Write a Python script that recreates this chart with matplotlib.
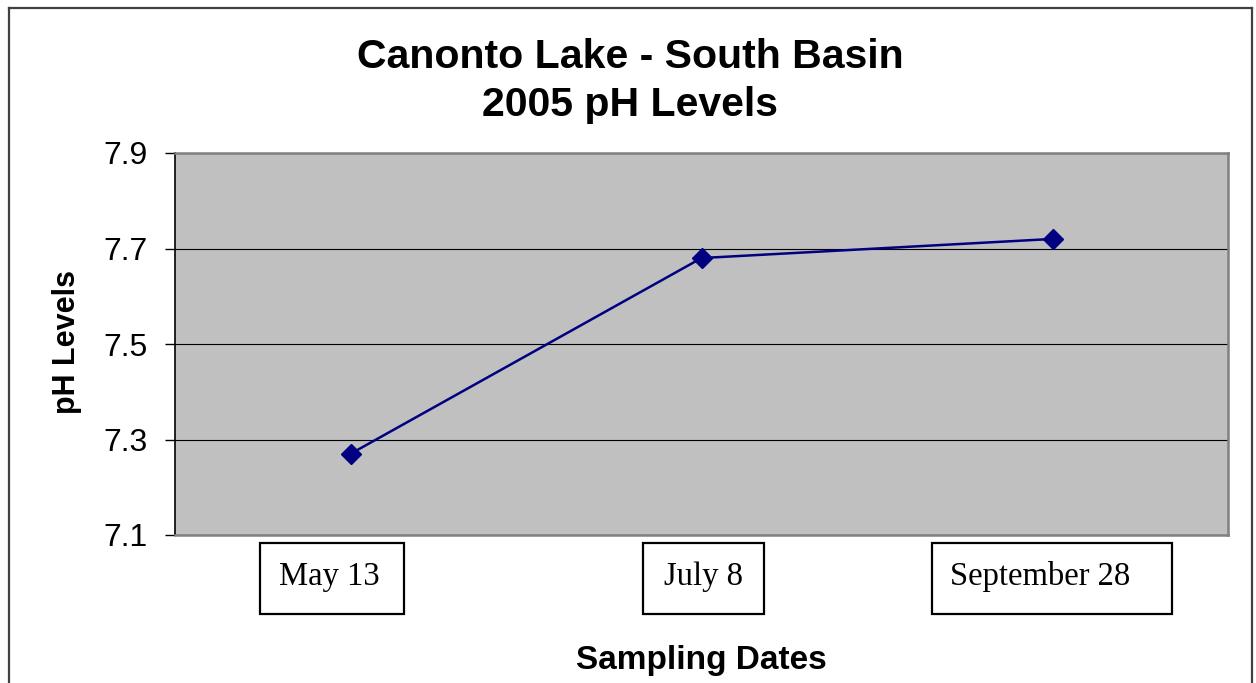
import matplotlib
matplotlib.use("Agg")
import matplotlib.pyplot as plt
from matplotlib.patches import Rectangle
from matplotlib.lines import Line2D

# data
dates = ["May 13", "July 8", "September 28"]
ph_levels = [7.27, 7.68, 7.72]
y_ticks = [7.1, 7.3, 7.5, 7.7, 7.9]

W, H = 1256, 683


def fx(px):
    return px / W


def fy(py):
    return 1 - py / H


fig = plt.figure(figsize=(W / 100, H / 100), dpi=100)
fig.patch.set_facecolor("white")

# outer chart border (bottom edge is cut off in the original)
for xs, ys in [((9, 9), (8, H + 5)), ((9, 1252), (8, 8)), ((1252, 1252), (8, H + 5))]:
    fig.add_artist(Line2D([fx(x) for x in xs], [fy(y) for y in ys],
                          color="#404040", lw=1.6))

ax = fig.add_axes([fx(175), fy(535), fx(1228) - fx(175), fy(153) - fy(535)])
ax.set_facecolor("#C0C0C0")

x = list(range(len(dates)))
ax.plot(x, ph_levels, color="#000080", lw=1.8, marker="D", markersize=10,
        markerfacecolor="#000080", markeredgecolor="#000080", zorder=3)

ax.set_xlim(-0.5, len(dates) - 0.5)
ax.set_ylim(7.1, 7.9)
ax.set_yticks(y_ticks)
ax.set_yticklabels([f"{v:.1f}" for v in y_ticks], fontsize=23, family="Liberation Sans")
ax.tick_params(axis="y", direction="out", length=7, width=1, color="black", pad=13)
ax.set_xticks([])
ax.yaxis.grid(True, color="black", lw=0.8)
ax.set_axisbelow(True)

ax.spines["left"].set_color("black")
ax.spines["left"].set_linewidth(1.2)
for s in ["top", "right", "bottom"]:
    ax.spines[s].set_color("#808080")
    ax.spines[s].set_linewidth(1.8)

# titles
fig.text(fx(630), fy(57), "Canonto Lake - South Basin", ha="center", va="center",
         fontsize=29.5, fontweight="bold", family="Liberation Sans")
fig.text(fx(630), fy(105), "2005 pH Levels", ha="center", va="center",
         fontsize=29.5, fontweight="bold", family="Liberation Sans")
fig.text(fx(701), fy(660), "Sampling Dates", ha="center", va="center",
         fontsize=24, fontweight="bold", family="Liberation Sans")
fig.text(fx(67), fy(342), "pH Levels", ha="center", va="center", rotation=90,
         fontsize=22, fontweight="bold", family="Liberation Sans")

# category labels sit in separate boxed text frames
boxes = [(260, 543, 404, 614), (643, 543, 764, 614), (932, 543, 1172, 614)]
label_x = [329, 703, 1040]
for (x0, y0, x1, y1), lx, lab in zip(boxes, label_x, dates):
    fig.add_artist(Rectangle((fx(x0), fy(y1)), fx(x1) - fx(x0), fy(y0) - fy(y1),
                             fill=False, edgecolor="black", lw=1.6))
    fig.text(fx(lx), fy(585), lab, ha="center", va="baseline",
             fontsize=23.5, family="Liberation Serif")

fig.savefig("out.png", dpi=100)
